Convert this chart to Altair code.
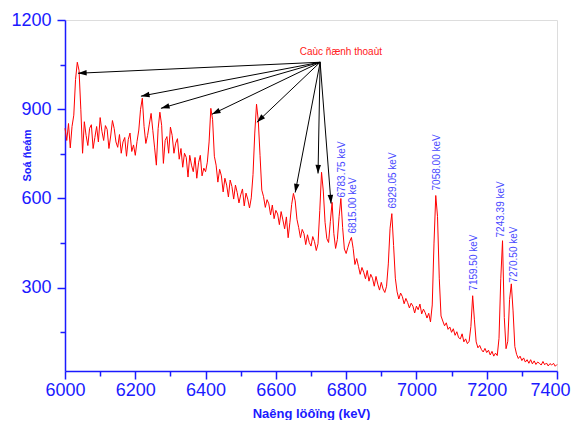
import math
import altair as alt
import pandas as pd

# ---------------- spectrum counts, one value every 5 keV ----------------
seg_6000 = [836, 795, 852, 770, 842, 880, 1000, 1058, 1030, 900, 752, 858, 812, 778, 836, 848, 768, 805, 842, 790]
seg_6100 = [872, 826, 795, 845, 832, 768, 810, 862, 835, 790, 772, 815, 752, 790, 805, 742, 798, 820, 758, 780]
seg_6200 = [745, 792, 830, 900, 937, 842, 785, 812, 850, 886, 828, 770, 712, 835, 890, 846, 718, 795, 808, 752]
seg_6300 = [840, 812, 752, 786, 801, 732, 768, 705, 752, 738, 672, 745, 712, 690, 738, 668, 720, 745, 676, 702]
seg_6400 = [690, 722, 790, 903, 865, 742, 712, 655, 698, 676, 622, 668, 645, 605, 662, 640, 598, 645, 620, 585]
seg_6500 = [612, 632, 575, 618, 598, 568, 602, 680, 820, 917, 862, 745, 628, 606, 570, 596, 582, 545, 578, 532]
seg_6600 = [560, 548, 512, 556, 528, 498, 538, 468, 520, 580, 617, 592, 530, 502, 468, 496, 482, 445, 478, 452]
seg_6700 = [440, 472, 455, 425, 448, 560, 688, 625, 520, 465, 452, 522, 587, 482, 432, 462, 540, 600, 502, 430]
seg_6800 = [415, 436, 455, 469, 432, 378, 398, 372, 345, 368, 352, 330, 358, 322, 345, 332, 305, 338, 312, 292]
seg_6900 = [318, 296, 284, 305, 380, 500, 549, 442, 332, 286, 262, 282, 270, 246, 264, 250, 232, 248, 238, 215]
seg_7000 = [238, 226, 245, 212, 228, 216, 198, 214, 185, 242, 450, 610, 540, 332, 205, 188, 172, 182, 160, 168]
seg_7100 = [150, 162, 140, 152, 132, 128, 145, 118, 128, 112, 120, 170, 273, 192, 118, 98, 106, 92, 84, 96]
seg_7200 = [82, 90, 74, 86, 70, 80, 72, 130, 330, 458, 200, 95, 120, 260, 313, 222, 102, 76, 62, 70]
seg_7300 = [55, 64, 50, 58, 46, 58, 44, 54, 42, 50, 46, 40, 52, 41, 47, 37, 45, 40, 46, 36, 42]

counts = (seg_6000 + seg_6100 + seg_6200 + seg_6300 + seg_6400 + seg_6500 + seg_6600
          + seg_6700 + seg_6800 + seg_6900 + seg_7000 + seg_7100 + seg_7200 + seg_7300)
energies = list(range(6000, 7401, 5))
assert len(counts) == len(energies)

# ---------------- axes ----------------
x_major = [6000, 6200, 6400, 6600, 6800, 7000, 7200, 7400]
x_minor = [6100, 6300, 6500, 6700, 6900, 7100, 7300]
y_major = [300, 600, 900, 1200]
y_minor = [150, 450, 750, 1050]
X_DOM = [6000, 7400]
Y_DOM = [20, 1200]

# ---------------- annotations ----------------
peak_labels = ["6783.75 keV", "6815.00 keV", "6929.05 keV", "7058.00 keV",
               "7159.50 keV", "7243.39 keV", "7270.50 keV"]
peak_label_e = [6788, 6819, 6933, 7058, 7165, 7241, 7278]
peak_label_c = [603, 482, 566, 627, 290, 469, 317]

escape_text = "Caùc ñænh thoaùt"
escape_text_e = [6785]
escape_text_c = [1092]

arrow_origin_e = 6726
arrow_origin_c = 1058
arrow_tip_e = [6037, 6216, 6273, 6418, 6546, 6655, 6720, 6757]
arrow_tip_c = [1021, 944, 903, 883, 856, 620, 684, 583]

W, H = 492, 351
BLUE = "#1a1aff"
LBLUE = "#4a4aff"
FONT = "Liberation Sans"


def px(e):
    return (e - X_DOM[0]) / (X_DOM[1] - X_DOM[0]) * W


def py(c):
    return (Y_DOM[1] - c) / (Y_DOM[1] - Y_DOM[0]) * H


angles = []
for e, c in zip(arrow_tip_e, arrow_tip_c):
    dx = px(e) - px(arrow_origin_e)
    dy = py(c) - py(arrow_origin_c)
    angles.append(math.degrees(math.atan2(dx, -dy)) % 360)

spec_df = pd.DataFrame({"E": energies, "C": counts})
arrow_df = pd.DataFrame({"E": arrow_tip_e, "C": arrow_tip_c,
                         "E0": [arrow_origin_e] * len(arrow_tip_e),
                         "C0": [arrow_origin_c] * len(arrow_tip_e),
                         "ang": angles})
label_df = pd.DataFrame({"E": peak_label_e, "C": peak_label_c, "t": peak_labels})
esc_df = pd.DataFrame({"E": escape_text_e, "C": escape_text_c, "t": [escape_text]})

xs = alt.Scale(domain=X_DOM, nice=False, zero=False)
ys = alt.Scale(domain=Y_DOM, nice=False, zero=False)

main = alt.Chart(spec_df).mark_line(color="#ff0000", strokeWidth=1).encode(
    x=alt.X("E:Q", scale=xs, axis=alt.Axis(
        values=x_major, format="d", grid=False, labelFlush=False, labelOverlap=False,
        labelFont=FONT, labelFontSize=18, labelColor=BLUE, labelPadding=2,
        labelOffset={"condition": {"test": "datum.value == 7400", "value": -7}, "value": 0},
        domainColor=BLUE, domainWidth=1.5, tickColor=BLUE, tickWidth=1.5, tickSize=8,
        title="Naêng löôïng (keV)", titleFont=FONT, titleFontSize=13, titleFontWeight="bold",
        titleColor=BLUE, titleY=42, titleBaseline="middle")),
    y=alt.Y("C:Q", scale=ys, axis=alt.Axis(
        values=y_major, format="d", grid=False, labelFont=FONT, labelFontSize=18,
        labelColor=BLUE, labelPadding=6, domainColor=BLUE, domainWidth=1.5,
        tickColor=BLUE, tickWidth=1.5, tickSize=8,
        title="Soá ñeám", titleFont=FONT, titleFontSize=11, titleFontWeight="bold",
        titleColor=BLUE, titleX=-38, titleY=135, titleBaseline="middle")),
)

minor = alt.Chart(spec_df).mark_line(opacity=0).encode(
    x=alt.X("E:Q", scale=xs, axis=alt.Axis(
        values=x_minor, orient="bottom", labels=False, domain=False, grid=False,
        tickColor=BLUE, tickWidth=1.5, tickSize=5, title=None)),
    y=alt.Y("C:Q", scale=ys, axis=alt.Axis(
        values=y_minor, orient="left", labels=False, domain=False, grid=False,
        tickColor=BLUE, tickWidth=1.5, tickSize=5, title=None)),
)

rules = alt.Chart(arrow_df).mark_rule(color="black", strokeWidth=1).encode(
    x=alt.X("E0:Q", scale=xs, axis=None),
    y=alt.Y("C0:Q", scale=ys, axis=None),
    x2="E:Q",
    y2="C:Q",
)

heads = alt.Chart(arrow_df).mark_point(
    shape="M0,0L-0.32,1L0.32,1Z", filled=True, color="black", opacity=1, size=300,
    strokeWidth=0,
).encode(
    x=alt.X("E:Q", scale=xs, axis=None),
    y=alt.Y("C:Q", scale=ys, axis=None),
    angle=alt.Angle("ang:Q", scale=None),
)

labels = alt.Chart(label_df).mark_text(
    angle=270, align="left", baseline="middle", font=FONT, fontSize=10, color=LBLUE,
).encode(
    x=alt.X("E:Q", scale=xs, axis=None),
    y=alt.Y("C:Q", scale=ys, axis=None),
    text="t:N",
)

esc = alt.Chart(esc_df).mark_text(
    align="center", baseline="middle", font=FONT, fontSize=10, color="#ff2020",
).encode(
    x=alt.X("E:Q", scale=xs, axis=None),
    y=alt.Y("C:Q", scale=ys, axis=None),
    text="t:N",
)

chart = alt.layer(main, minor, rules, heads, labels, esc).resolve_axis(
    x="independent", y="independent"
).properties(
    width=W, height=H,
    autosize=alt.AutoSizeParams(type="none"),
    padding={"left": 57, "top": 12, "right": 14, "bottom": 49},
).configure_view(stroke=None).configure(background="white")

chart.save("out.html", embed_options={"renderer": "svg", "actions": False})
